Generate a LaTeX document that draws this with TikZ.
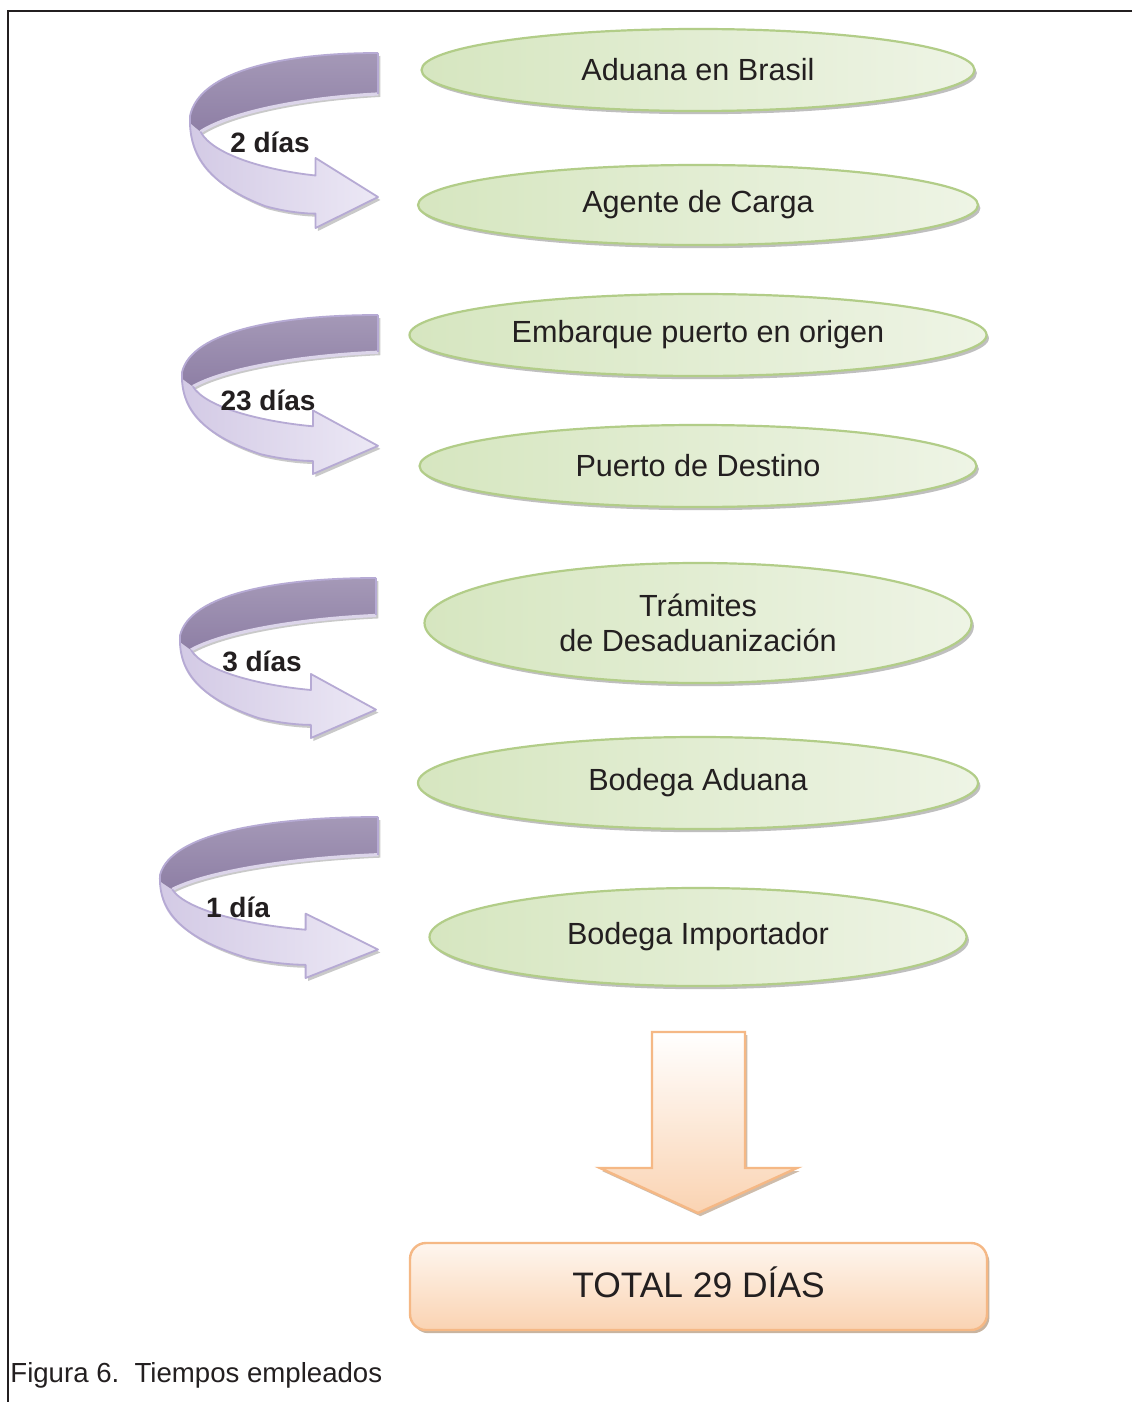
\documentclass[tikz,border=0pt]{standalone}
\usepackage{fontspec}
\setmainfont{Liberation Sans}
\usetikzlibrary{shapes.geometric,shadows}
\definecolor{txt}{HTML}{231F20}
\definecolor{grnB}{HTML}{B2CD88}
\definecolor{grnL}{HTML}{D6E6C0}
\definecolor{grnR}{HTML}{EEF4E5}
\definecolor{orB}{HTML}{F5B885}
\definecolor{orT}{HTML}{FEF6EF}
\definecolor{orD}{HTML}{FAD3B2}
\definecolor{purD}{HTML}{8E7FA5}
\definecolor{purL}{HTML}{D3CAE5}
\definecolor{purR}{HTML}{ECE8F5}
\definecolor{purB}{HTML}{B6AAD4}
\tikzset{
  stage/.style={ellipse, draw=grnB, line width=1.1pt, left color=grnL, right color=grnR,
    inner sep=0pt, font=\fontsize{15.3}{17.5}\selectfont, text=txt, align=center,
    drop shadow={shadow xshift=1.2pt, shadow yshift=-1.6pt, fill=black!45, opacity=0.55}},
  daylabel/.style={font=\bfseries\fontsize{14}{16}\selectfont, text=txt, inner sep=0pt},
  totalbox/.style={rectangle, rounded corners=8pt, draw=orB, line width=1.2pt,
    top color=orT, bottom color=orD, inner sep=0pt, text=txt,
    font=\fontsize{17.7}{20}\selectfont,
    drop shadow={shadow xshift=1.2pt, shadow yshift=-1.6pt, fill=brown!70!black, opacity=0.45}},
  frameline/.style={line width=1.3pt, draw=txt},
}
\newcommand{\uturnarrow}[7]{%
  \pgfmathsetmacro\arW{(#4-#2)*0.5}%
  \pgfmathsetmacro\arH{(#5-#3)*0.5}%
  \begin{scope}[shift={(#2,#3)}, x=\arW pt, y=-\arH pt]
    % shadow
    \fill[black!35, opacity=0.6, xshift=1.2pt, yshift=-1.5pt]
      (1,0) .. controls (0.5,0.0) and (0.05,0.1) .. (0,0.36)
      .. controls (-0.01,0.6) and (0.12,0.76) .. (0.4,0.875)
      .. controls (0.5,0.905) and (0.6,0.918) .. (0.668,0.918)
      -- (0.668,1) -- (1,0.823) -- (0.668,0.60) -- (0.668,0.70)
      .. controls (0.4,0.67) and (0.12,0.58) .. (0.056,0.45)
      .. controls (0.2,0.35) and (0.55,0.26) .. (1,0.234) -- cycle;
    % light front part
    \path[left color=purL, right color=purR]
      (0,0.40)
      .. controls (-0.004,0.62) and (0.12,0.76) .. (0.4,0.875)
      .. controls (0.5,0.905) and (0.6,0.918) .. (0.668,0.918)
      -- (0.668,1) -- (1,0.823) -- (0.668,0.60) -- (0.668,0.70)
      .. controls (0.4,0.67) and (0.12,0.58) .. (0.056,0.45) -- cycle;
    % dark back part
    \path[top color=purD!80!white, bottom color=purD]
      (1,0) .. controls (0.5,0.0) and (0.05,0.1) .. (0,0.36)
      -- (0,0.40) -- (0.056,0.45)
      .. controls (0.2,0.35) and (0.55,0.26) .. (1,0.234) -- cycle;
    % ribbon edge
    \draw[purL!80!white, line width=1.6pt]
      (0.056,0.45) .. controls (0.2,0.35) and (0.55,0.26) .. (1,0.234);
    % outline
    \draw[purB, line width=0.9pt, line join=round]
      (1,0) .. controls (0.5,0.0) and (0.05,0.1) .. (0,0.36)
      .. controls (-0.01,0.6) and (0.12,0.76) .. (0.4,0.875)
      .. controls (0.5,0.905) and (0.6,0.918) .. (0.668,0.918)
      -- (0.668,1) -- (1,0.823) -- (0.668,0.60) -- (0.668,0.70)
      .. controls (0.4,0.67) and (0.12,0.58) .. (0.056,0.45);
    \draw[purB, line width=0.9pt] (1,0) -- (1,0.234);
  \end{scope}
  \node[daylabel] (#1) at (#7) {#6};
}
\begin{document}
\begin{tikzpicture}[x=0.5pt,y=-0.5pt]
\useasboundingbox (0,0) rectangle (1132,1402);
\fill[white] (0,0) rectangle (1132,1402);

% frame
\coordinate (fTL) at (8,11);
\coordinate (fTR) at (1132,11);
\coordinate (fBL) at (8,1402);
\draw[frameline] (fTR) -- (fTL) -- (fBL);

% stages
\node[stage, minimum width=276.5pt, minimum height=41pt] (e1) at (698,70) {Aduana en Brasil};
\node[stage, minimum width=280pt, minimum height=40pt] (e2) at (698,205) {Agente de Carga};
\node[stage, minimum width=288.5pt, minimum height=41pt] (e3) at (698,335) {Embarque puerto en origen};
\node[stage, minimum width=278.5pt, minimum height=41pt] (e4) at (698,466) {Puerto de Destino};
\node[stage, minimum width=273.5pt, minimum height=60pt] (e5) at (698,623) {Trámites\\de Desaduanización};
\node[stage, minimum width=280pt, minimum height=46pt] (e6) at (698,783) {Bodega Aduana};
\node[stage, minimum width=268.5pt, minimum height=49pt] (e7) at (698,937) {Bodega Importador};

% u-turn arrows with day labels
\uturnarrow{d1}{190}{53}{378}{228}{2 días}{270,142}
\uturnarrow{d2}{182}{315}{378}{474}{23 días}{268,400}
\uturnarrow{d3}{180}{578}{376}{738}{3 días}{262,661}
\uturnarrow{d4}{160}{817}{378}{978}{1 día}{238,907}

% down block arrow
\coordinate (aS1) at (652,1032);
\coordinate (aS2) at (745,1032);
\coordinate (aTip) at (698,1213);
\fill[brown!70!black, opacity=0.4, xshift=1.2pt, yshift=-1.6pt]
  (652,1032) -- (745,1032) -- (745,1168) -- (797,1168) -- (698,1213) -- (600,1168) -- (652,1168) -- cycle;
\path[top color=white, bottom color=orD] (652,1032) -- (745,1032) -- (745,1168) -- (797,1168) -- (698,1213) -- (600,1168) -- (652,1168) -- cycle;
\draw[orB, line width=1.2pt, line join=miter]
  (aS1) -- (aS2) -- (745,1168) -- (797,1168) -- (aTip) -- (600,1168) -- (652,1168) -- cycle;

% total
\node[totalbox, minimum width=288.5pt, minimum height=43.5pt] (tot) at (698.5,1286.5) {\raisebox{4pt}{TOTAL 29 DÍAS}};

% caption
\node[anchor=west, inner sep=0pt, text=txt, font=\fontsize{13.8}{16}\selectfont] (cap) at (10,1375) {Figura 6.\ \ Tiempos empleados};
\end{tikzpicture}
\end{document}
